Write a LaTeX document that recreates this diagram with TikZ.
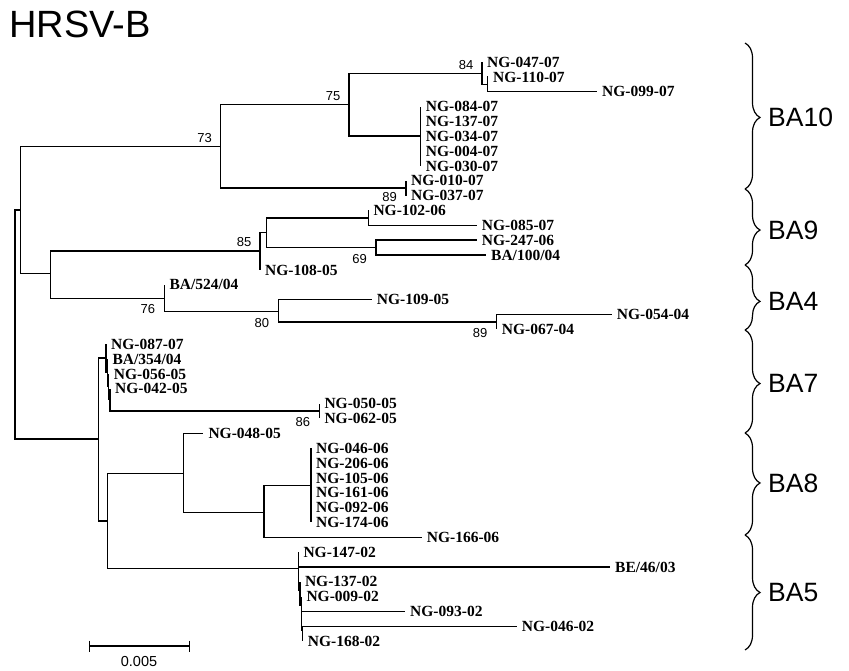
\documentclass[tikz,border=0pt]{standalone}
\usepackage{fontspec}
\setmainfont{Liberation Serif}
\newfontfamily\arialf{Liberation Sans}
\usetikzlibrary{positioning,decorations.pathreplacing}

\tikzset{
  br/.style={line width=1.4pt},
  leaf/.style={anchor=base west, inner sep=0pt, xshift=5pt, yshift=-5.2pt, font=\fontsize{15.5}{15.5}\selectfont\bfseries},
  boot/.style={inner sep=0pt, font=\arialf\fontsize{13}{13}\selectfont},
  bul/.style={boot, xshift=-16pt, yshift=8.5pt},
  bll/.style={boot, xshift=-16.5pt, yshift=-11pt},
  brc/.style={line width=1.2pt, decorate, decoration={brace, amplitude=15pt}},
  clade/.style={anchor=west, inner sep=0pt, font=\arialf\fontsize{26.5}{26.5}\selectfont},
}

\begin{document}
\begin{tikzpicture}[x=1pt,y=-1pt]
\useasboundingbox (0,0) rectangle (849,671);
\node[anchor=base west, inner sep=0pt, font=\arialf\fontsize{38}{38}\selectfont] (title) at (9,38) {HRSV-B};
% inner nodes of the tree
\coordinate (r) at (15,324.6);
\coordinate (U) at (20.7,210);
\coordinate (n73) at (220.7,146.7);
\coordinate (n75) at (349,104.3);
\coordinate (n84) at (482,73.3);
\coordinate (nC) at (487.3,84.3);
\coordinate (nB) at (420.7,136.2);
\coordinate (nA) at (406,188.2);
\coordinate (n50) at (50.7,273.3);
\coordinate (n85) at (260,251);
\coordinate (nD) at (266.7,232.5);
\coordinate (n89) at (368.3,218);
\coordinate (n69) at (376,247.6);
\coordinate (n76) at (164.3,298.3);
\coordinate (n80) at (278.3,311.7);
\coordinate (n89b) at (496.7,321.9);
\coordinate (L) at (98.3,439);
\coordinate (A) at (106,358);
\coordinate (B) at (107.3,372.4);
\coordinate (C) at (108.7,386.4);
\coordinate (D) at (110,399.6);
\coordinate (n86) at (319.3,411);
\coordinate (M) at (107.3,521);
\coordinate (n8) at (183.3,473.3);
\coordinate (n8b) at (264,512.3);
\coordinate (n8c) at (311,485.3);
\coordinate (P0) at (298.3,568.3);
\coordinate (Q1) at (299.8,590);
\coordinate (Q2) at (301.3,605);
\coordinate (Q3) at (302.7,630);
% leaves
\foreach \i/\x/\name in {0/482/NG-047-07, 1/488/NG-110-07, 2/597/NG-099-07, 3/420.7/NG-084-07,
  4/420.7/NG-137-07, 5/420.7/NG-034-07, 6/420.7/NG-004-07, 7/420.7/NG-030-07, 8/406/NG-010-07,
  9/406/NG-037-07, 10/368.3/NG-102-06, 11/476.7/NG-085-07, 12/476.7/NG-247-06, 13/486/{BA/100/04},
  14/260/NG-108-05, 15/164.3/{BA/524/04}, 16/371.7/NG-109-05, 17/611.7/NG-054-04, 18/496.7/NG-067-04,
  19/106/NG-087-07, 20/107.3/{BA/354/04}, 21/108.7/NG-056-05, 22/110/NG-042-05, 23/319.3/NG-050-05,
  24/319.3/NG-062-05, 25/203.3/NG-048-05, 26/311/NG-046-06, 27/311/NG-206-06, 28/311/NG-105-06,
  29/311/NG-161-06, 30/311/NG-092-06, 31/311/NG-174-06, 32/421.7/NG-166-06, 33/298.3/NG-147-02,
  34/610/{BE/46/03}, 35/299.8/NG-137-02, 36/301.3/NG-009-02, 37/405/NG-093-02, 38/516.7/NG-046-02,
  39/302.7/NG-168-02} {
  \coordinate (t\i) at (\x,{62+14.85*\i});
  \node[leaf] (l\i) at (t\i) {\name};
}
% branches
\foreach \p/\c in {r/U, r/L, U/n73, U/n50, n73/n75, n73/nA, n75/n84, n75/nB, n84/t0, n84/nC,
  nC/t1, nC/t2, nB/t3, nB/t4, nB/t5, nB/t6, nB/t7, nA/t8, nA/t9, n50/n85, n50/n76, n85/nD,
  n85/t14, nD/n89, nD/n69, n89/t10, n89/t11, n69/t12, n69/t13, n76/t15, n76/n80, n80/t16,
  n80/n89b, n89b/t17, n89b/t18, L/A, L/M, A/t19, A/B, B/t20, B/C, C/t21, C/D, D/t22, D/n86,
  n86/t23, n86/t24, M/n8, M/P0, n8/t25, n8/n8b, n8b/n8c, n8b/t32, n8c/t26, n8c/t27, n8c/t28,
  n8c/t29, n8c/t30, n8c/t31, P0/t33, P0/t34, P0/Q1, Q1/t35, Q1/Q2, Q2/t36, Q2/t37, Q2/Q3,
  Q3/t38, Q3/t39}
  \draw[br] (\p) |- (\c);
% bootstrap values
\node[bul] (b73) at (n73) {73};
\node[bul] (b75) at (n75) {75};
\node[bul] (b84) at (n84) {84};
\node[bul] (b85) at (n85) {85};
\node[bll, yshift=2pt] (b89a) at (nA) {89};
\node[bll] (b69) at (n69) {69};
\node[bll] (b76) at (n76) {76};
\node[bll] (b80) at (n80) {80};
\node[bll] (b89b) at (n89b) {89};
\node[bll] (b86) at (n86) {86};
% scale bar
\coordinate (s0) at (89.3,646);
\coordinate (s1) at (189.3,646);
\draw[br] (s0) -- (s1);
\draw[br] ([yshift=5.5pt]s0) -- ([yshift=-5.5pt]s0);
\draw[br] ([yshift=5.5pt]s1) -- ([yshift=-5.5pt]s1);
\node[inner sep=0pt, font=\arialf\fontsize{14.5}{14.5}\selectfont] (scl) at (139,662) {0.005};
% genotype braces
\foreach \ya/\yb/\asp/\lab in {43/189/0.51/BA10, 189/265/0.54/BA9, 265/330/0.56/BA4,
  330/433/0.52/BA7, 433/535/0.49/BA8, 535/650/0.5/BA5} {
  \draw[brc, decoration={aspect=\asp}] (745,\ya) -- (745,\yb);
  \node[clade] (c\lab) at (768,{\ya+\asp*(\yb-\ya)}) {\lab};
}
\end{tikzpicture}
\end{document}
